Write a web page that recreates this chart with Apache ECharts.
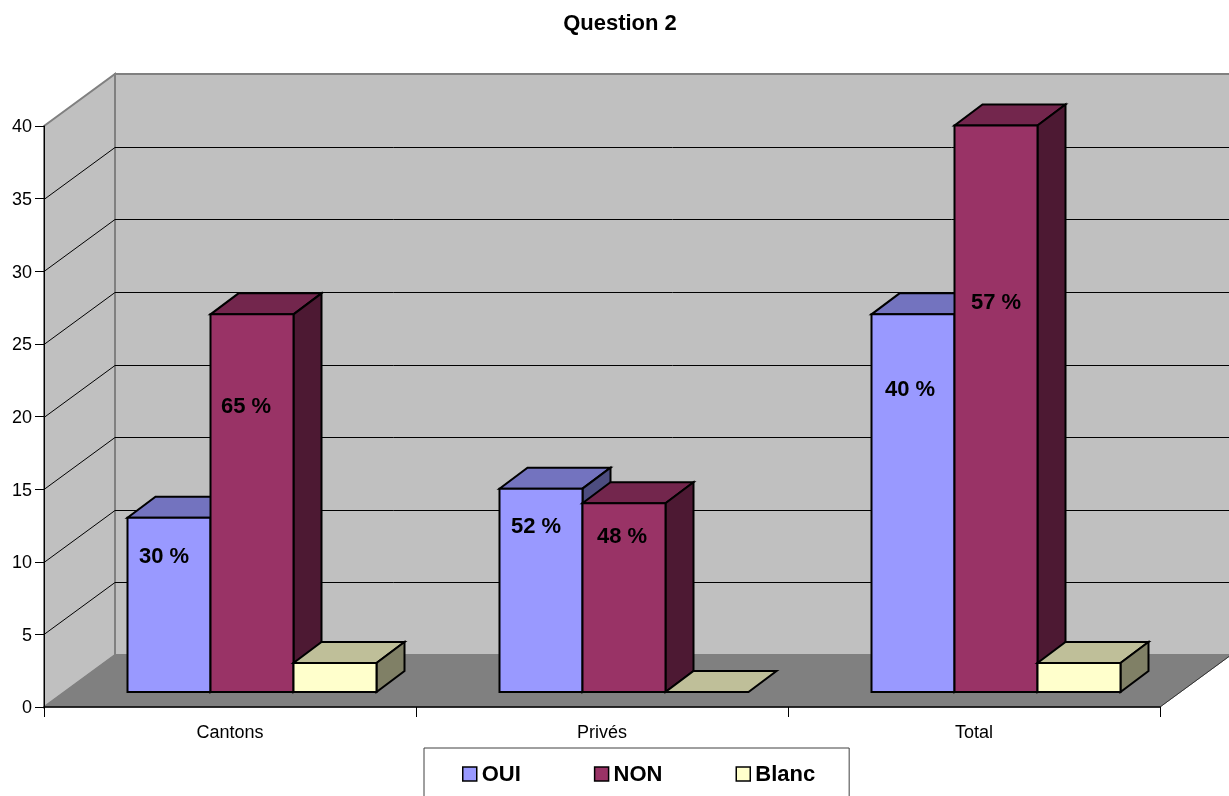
<!DOCTYPE html>
<html lang="fr">
<head>
<meta charset="utf-8">
<title>Question 2</title>
<script src="https://cdn.jsdelivr.net/npm/echarts@6/dist/echarts.min.js"></script>
<style>
  html, body { margin: 0; padding: 0; background: #fff; overflow: hidden; }
  #chart { width: 1229px; height: 796px; }
</style>
</head>
<body>
<div id="chart"></div>
<script>
// Answers per group
const categories = ['Cantons', 'Privés', 'Total'];
const oui = [12, 14, 26];
const non = [26, 13, 39];
const blanc = [2, 0, 2];
const ouiLabels = ['30 %', '52 %', '40 %'];
const nonLabels = ['65 %', '48 %', '57 %'];
const valueTicks = [0, 5, 10, 15, 20, 25, 30, 35, 40];

// 3D projection of the chart box, in pixels
const FONT = '"Liberation Sans", Arial, sans-serif';
const WALL_DX = 71, WALL_DY = 52;   // floor depth
const BAR_LIFT = 15;                // bars stand this far back from the front edge
const BAR_DX = 28, BAR_DY = 21;     // bar depth
const BAR_RATIO = 83 / 372;         // bar width (and left gap) as a share of the band
const BAR_NUDGE = 0.5;              // keeps vertical bar edges on whole pixels

// Label anchors: pixel nudge from the bar centre, height in axis units
const ouiLabelPlace = [[-5, 10.3], [-5, 12.4], [-3, 21.8]];
const nonLabelPlace = [[-6, 20.65], [-2, 11.7], [0, 27.85]];

function poly(points, fill, stroke, width) {
  return {
    type: 'polygon',
    shape: { points: points },
    style: { fill: fill, stroke: stroke, lineWidth: width, lineJoin: 'miter' }
  };
}

function line(x1, y1, x2, y2, stroke, width) {
  return {
    type: 'line',
    shape: { x1: x1, y1: y1, x2: x2, y2: y2 },
    style: { stroke: stroke, lineWidth: width }
  };
}

// Side wall, back wall, floor and their gridlines
function renderWalls(params, api) {
  const sys = params.coordSys;
  const left = sys.x, right = sys.x + sys.width;
  const bottom = api.coord([0, 0])[1];
  const top = api.coord([0, valueTicks[valueTicks.length - 1]])[1];
  const children = [
    poly([[left, top], [left + WALL_DX, top - WALL_DY], [left + WALL_DX, bottom - WALL_DY], [left, bottom]], '#C0C0C0', '#808080', 2),
    poly([[left + WALL_DX, top - WALL_DY], [right + WALL_DX, top - WALL_DY], [right + WALL_DX, bottom - WALL_DY], [left + WALL_DX, bottom - WALL_DY]], '#C0C0C0', '#808080', 2),
    poly([[left, bottom], [left + WALL_DX, bottom - WALL_DY], [right + WALL_DX, bottom - WALL_DY], [right, bottom]], '#808080', '#808080', 1),
    line(right, bottom, right + WALL_DX, bottom - WALL_DY, '#333333', 1)
  ];
  valueTicks.slice(1, -1).forEach(function (v) {
    const y = Math.round(api.coord([0, v])[1]) + 0.5;
    children.push(line(left, y, left + WALL_DX, y - WALL_DY, '#000000', 1));
    children.push(line(left + WALL_DX, y - WALL_DY, right + WALL_DX, y - WALL_DY, '#000000', 1));
  });
  return { type: 'group', children: children };
}

// One extruded bar: top and side faces follow the front face
function barRenderer(slot, colors, labels, places) {
  return function (params, api) {
    const cat = api.value(0), val = api.value(1);
    const band = api.size([1, 0])[0];
    const w = band * BAR_RATIO;
    const x = api.coord([cat, 0])[0] - band / 2 + w * (slot + 1) + BAR_NUDGE;
    const base = api.coord([cat, 0])[1] - BAR_LIFT;
    const y = api.coord([cat, val])[1] - BAR_LIFT;
    const children = [
      poly([[x, y], [x + w, y], [x + w + BAR_DX, y - BAR_DY], [x + BAR_DX, y - BAR_DY]], colors.top, '#000', 2)
    ];
    if (val > 0) {
      children.push(poly([[x + w, y], [x + w + BAR_DX, y - BAR_DY], [x + w + BAR_DX, base - BAR_DY], [x + w, base]], colors.side, '#000', 2));
      children.push(poly([[x, y], [x + w, y], [x + w, base], [x, base]], colors.front, '#000', 2));
    }
    if (labels) {
      const place = places[params.dataIndex];
      children.push({
        type: 'text',
        style: {
          text: labels[params.dataIndex],
          x: x + w / 2 + place[0],
          y: api.coord([cat, place[1]])[1],
          fill: '#000',
          font: 'bold 22px ' + FONT,
          align: 'center',
          verticalAlign: 'middle'
        }
      });
    }
    return { type: 'group', children: children };
  };
}

function barSeries(name, values, slot, colors, labels, places) {
  return {
    name: name,
    type: 'custom',
    coordinateSystem: 'cartesian2d',
    clip: false,
    z: 3,
    encode: { x: 0, y: 1 },
    itemStyle: { color: colors.front },
    data: values.map(function (v, i) { return [i, v]; }),
    renderItem: barRenderer(slot, colors, labels, places)
  };
}

const chart = echarts.init(document.getElementById('chart'), null, { renderer: 'canvas' });
chart.setOption({
  animation: false,
  backgroundColor: '#ffffff',
  title: {
    text: 'Question 2',
    left: 615,
    top: 8,
    textAlign: 'center',
    textStyle: { fontFamily: FONT, fontSize: 22, fontWeight: 'bold', color: '#000' }
  },
  grid: { left: 44, top: 126, width: 1116, height: 581, containLabel: false },
  legend: {
    left: 424,
    top: 748,
    data: ['OUI', 'NON', 'Blanc'],
    icon: 'rect',
    orient: 'horizontal',
    selectedMode: false,
    itemWidth: 14,
    itemHeight: 14,
    itemGap: 73,
    padding: [16, 34, 40, 38],
    backgroundColor: '#ffffff',
    borderColor: '#404040',
    borderWidth: 1,
    itemStyle: { borderColor: '#000', borderWidth: 1.5 },
    formatter: '{t|{name}}',
    textStyle: {
      fontFamily: FONT, fontSize: 22, fontWeight: 'bold', color: '#000',
      rich: { t: { fontFamily: FONT, fontSize: 22, fontWeight: 'bold', color: '#000', padding: [2, 0, 0, 0] } }
    }
  },
  xAxis: {
    type: 'category',
    data: categories,
    z: 10,
    axisLine: { lineStyle: { color: '#000', width: 1.5 } },
    axisTick: { show: true, length: 10, alignWithLabel: false, lineStyle: { color: '#000', width: 1 } },
    axisLabel: { fontFamily: FONT, fontSize: 18, color: '#000', margin: 17 }
  },
  yAxis: {
    type: 'value',
    min: 0,
    max: 40,
    interval: 5,
    z: 10,
    splitLine: { show: false },
    axisLine: { show: true, lineStyle: { color: '#000', width: 1 } },
    axisTick: { show: true, length: 9, lineStyle: { color: '#000', width: 1 } },
    axisLabel: {
      fontFamily: FONT, fontSize: 18, color: '#000', margin: 12,
      formatter: '{v|{value}}',
      rich: { v: { fontFamily: FONT, fontSize: 18, color: '#000', padding: [3, 0, 0, 0] } }
    }
  },
  series: [
    {
      type: 'custom',
      coordinateSystem: 'cartesian2d',
      clip: false,
      silent: true,
      z: 1,
      data: [[0, 0]],
      renderItem: renderWalls
    },
    barSeries('OUI', oui, 0, { front: '#9999FF', top: '#7373BF', side: '#4D4D80' }, ouiLabels, ouiLabelPlace),
    barSeries('NON', non, 1, { front: '#993366', top: '#73264D', side: '#4D1933' }, nonLabels, nonLabelPlace),
    barSeries('Blanc', blanc, 2, { front: '#FFFFCC', top: '#BFBF99', side: '#808066' })
  ]
});
</script>
</body>
</html>
